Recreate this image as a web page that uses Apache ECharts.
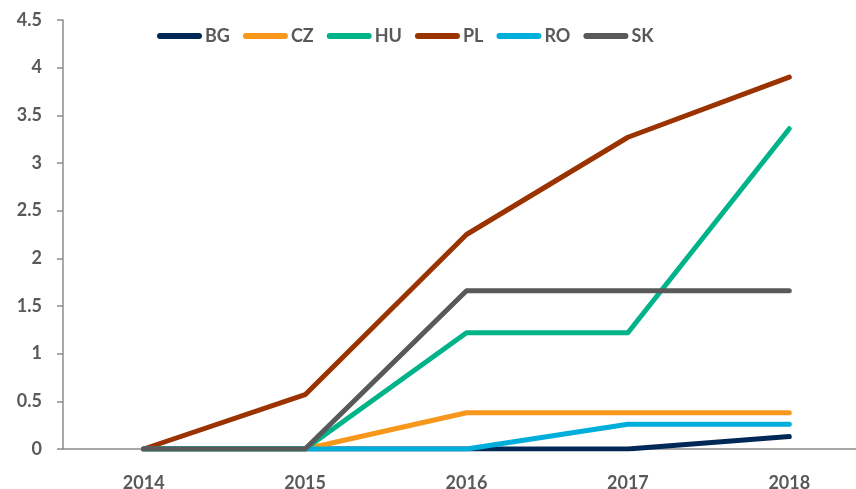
<!DOCTYPE html>
<html><head><meta charset="utf-8">
<script src="https://cdn.jsdelivr.net/npm/echarts@6/dist/echarts.min.js"></script>
<style>html,body{margin:0;padding:0;background:#fff}#c{width:856px;height:489px}</style>
</head><body><div id="c"></div>
<script>
const years = ['2014','2015','2016','2017','2018'];
const BG = [0, 0, 0, 0, 0.13];
const CZ = [0, 0, 0.38, 0.38, 0.38];
const HU = [0, 0, 1.22, 1.22, 3.36];
const PL = [0, 0.57, 2.25, 3.27, 3.9];
const RO = [0, 0, 0, 0.26, 0.26];
const SK = [0, 0, 1.66, 1.66, 1.66];
const seriesDefs = [
  ['BG', BG, '#002856'],
  ['CZ', CZ, '#F7981D'],
  ['HU', HU, '#00B388'],
  ['PL', PL, '#9B3300'],
  ['RO', RO, '#00AEDB'],
  ['SK', SK, '#595959']
];
const font = 'Lato';
const chart = echarts.init(document.getElementById('c'), null, {renderer:'canvas'});
chart.setOption({
  animation:false,
  grid:{left:63, top:20, width:807, height:429, outerBoundsMode:'none', containLabel:false},
  legend:{
    top:27, left:157, padding:0,
    itemWidth:45, itemHeight:6, itemGap:13,
    icon:'path://M3,0 H42 A3,3 0 0 1 42,6 H3 A3,3 0 0 1 3,0 Z',
    textStyle:{fontFamily:font, fontWeight:'bold', fontSize:18, color:'#595959', padding:[0,0,0,-2]},
    data: seriesDefs.map(s=>s[0])
  },
  xAxis:{
    type:'category', data:years, boundaryGap:true,
    axisLine:{lineStyle:{color:'#8c8c8c', width:1.5}},
    axisTick:{show:false},
    axisLabel:{fontFamily:font, fontWeight:'bold', fontSize:18, color:'#595959', margin:25}
  },
  yAxis:{
    type:'value', min:0, max:4.5, interval:0.5,
    splitLine:{show:false},
    axisLine:{show:true, lineStyle:{color:'#8c8c8c', width:1.5}},
    axisTick:{show:true, length:6, lineStyle:{color:'#8c8c8c', width:1.5}},
    axisLabel:{fontFamily:font, fontWeight:'bold', fontSize:18, color:'#595959', margin:21}
  },
  series: seriesDefs.map(s=>({
    name:s[0], type:'line', data:s[1], color:s[2],
    symbol:'none', showSymbol:false,
    lineStyle:{width:5, color:s[2], cap:'round', join:'round'}
  }))
});
</script></body></html>
